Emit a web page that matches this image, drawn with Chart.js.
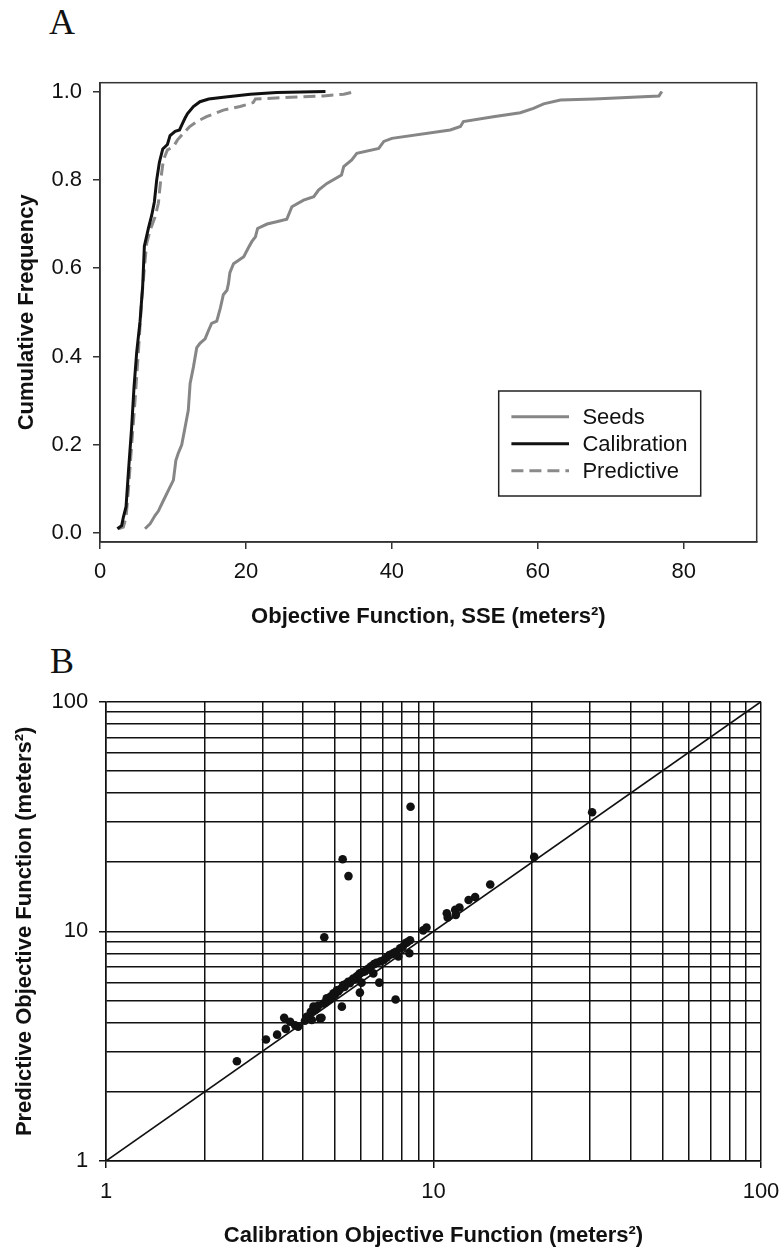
<!DOCTYPE html>
<html>
<head>
<meta charset="utf-8">
<script src="https://cdn.jsdelivr.net/npm/chart.js@4.4.0/dist/chart.umd.min.js"></script>
<style>
  body { margin: 0; background: #fff; width: 780px; height: 1249px; position: relative; overflow: hidden; }
  .panel-letter { position: absolute; font-family: 'Liberation Serif', 'Times New Roman', serif; font-size: 36px; line-height: 36px; color: #111; }
  #wrapA { position: absolute; left: 0; top: 40px; width: 780px; height: 600px; }
  #wrapB { position: absolute; left: 0; top: 640px; width: 780px; height: 609px; }
</style>
</head>
<body>
<div class="panel-letter" style="left:49px; top:3.5px;">A</div>
<div class="panel-letter" style="left:50px; top:643px;">B</div>
<div id="wrapA"><canvas id="cdfChart" width="780" height="600"></canvas></div>
<div id="wrapB"><canvas id="sseChart" width="780" height="609"></canvas></div>

<script>
// Панель A: кумулятивные распределения SSE
const seedsX = [6.17, 6.86, 7.54, 8.0, 8.69, 9.37, 10.06, 10.4, 10.7, 11.2, 11.66, 12.1, 12.35, 12.8, 13.26, 13.7, 14.4, 14.9, 15.3, 16.0, 16.5, 16.9, 17.4, 17.6, 17.8, 18.3, 19.0, 19.7, 20.3, 20.8, 21.3, 21.6, 22.9, 24.2, 25.6, 26.3, 27.9, 29.3, 29.95, 31.1, 33.1, 33.4, 34.5, 35.2, 38.2, 38.9, 40.0, 48.0, 49.4, 49.8, 53.9, 57.6, 59.4, 60.8, 63.1, 67.7, 76.6, 77.0];
const seedsY = [0.01, 0.021, 0.04, 0.05, 0.074, 0.097, 0.12, 0.165, 0.18, 0.2, 0.24, 0.278, 0.339, 0.376, 0.42, 0.43, 0.44, 0.46, 0.475, 0.48, 0.51, 0.54, 0.55, 0.565, 0.59, 0.61, 0.618, 0.626, 0.645, 0.66, 0.671, 0.69, 0.70, 0.705, 0.711, 0.739, 0.754, 0.762, 0.777, 0.792, 0.811, 0.83, 0.845, 0.86, 0.871, 0.887, 0.894, 0.913, 0.921, 0.932, 0.943, 0.952, 0.962, 0.972, 0.981, 0.983, 0.99, 1.0];

const calibX = [2.38, 2.97, 3.2, 3.57, 3.9, 4.34, 4.66, 5.03, 5.49, 5.85, 6.08, 6.63, 7.09, 7.45, 7.77, 8.14, 8.6, 9.24, 9.6, 10.3, 10.9, 11.2, 11.66, 12.0, 12.8, 13.7, 14.9, 16.9, 20.6, 24.2, 30.9];
const calibY = [0.01, 0.017, 0.036, 0.06, 0.14, 0.24, 0.33, 0.41, 0.48, 0.56, 0.65, 0.69, 0.72, 0.75, 0.80, 0.84, 0.87, 0.88, 0.90, 0.91, 0.913, 0.924, 0.94, 0.95, 0.966, 0.977, 0.983, 0.987, 0.994, 0.998, 1.0];

const predX = [2.5, 3.2, 3.57, 3.9, 4.34, 4.8, 5.26, 5.72, 6.08, 6.4, 6.86, 7.54, 8.0, 8.32, 8.69, 9.24, 10.06, 10.6, 11.4, 12.25, 13.26, 14.6, 16.9, 19.2, 21.0, 21.3, 26.1, 30.6, 33.4, 35.0];
const predY = [0.01, 0.014, 0.036, 0.10, 0.2, 0.30, 0.41, 0.53, 0.60, 0.656, 0.686, 0.716, 0.747, 0.80, 0.845, 0.868, 0.875, 0.89, 0.905, 0.92, 0.932, 0.943, 0.958, 0.966, 0.975, 0.983, 0.987, 0.99, 0.994, 1.0];

const seriesNamesA = ['Seeds', 'Calibration', 'Predictive'];
const xTicksA = [0, 20, 40, 60, 80];
const yTicksA = [0, 0.2, 0.4, 0.6, 0.8, 1.0];

// Панель B: калибровочная и прогнозная SSE для каждой модели
const calibSSE = [2.51, 3.08, 3.33, 3.50, 3.54, 3.65, 3.78, 3.86, 4.05, 4.10, 4.22, 4.25, 4.30, 4.35, 4.40, 4.45, 4.50, 4.55, 4.61, 4.64, 4.68, 4.72, 4.78, 4.85, 4.90, 4.95, 5.00, 5.07, 5.12, 5.18, 5.25, 5.28, 5.30, 5.35, 5.40, 5.49, 5.50, 5.55, 5.62, 5.69, 5.75, 5.82, 5.90, 5.96, 5.96, 6.03, 6.10, 6.18, 6.25, 6.35, 6.45, 6.55, 6.58, 6.70, 6.83, 6.90, 7.05, 7.20, 7.33, 7.45, 7.55, 7.66, 7.68, 7.81, 7.91, 8.05, 8.19, 8.30, 8.44, 8.48, 8.51, 9.30, 9.52, 10.98, 11.05, 11.65, 11.7, 12.0, 12.8, 13.4, 14.9, 20.3, 30.5];
const predSSE = [2.72, 3.38, 3.55, 4.20, 3.76, 4.04, 3.90, 3.84, 4.08, 4.25, 4.46, 4.11, 4.70, 4.55, 4.62, 4.75, 4.18, 4.20, 4.85, 9.42, 4.90, 5.11, 5.02, 5.20, 5.15, 5.37, 5.30, 5.54, 5.48, 5.60, 4.70, 20.6, 5.83, 5.72, 5.90, 6.03, 17.4, 5.95, 6.10, 6.23, 6.18, 6.35, 6.45, 6.56, 5.41, 5.98, 6.65, 6.70, 6.80, 6.90, 7.05, 6.56, 7.20, 7.30, 5.98, 7.40, 7.50, 7.70, 7.89, 7.95, 8.05, 5.05, 8.15, 7.77, 8.43, 8.55, 8.85, 8.95, 8.03, 9.15, 34.9, 10.1, 10.4, 11.98, 11.5, 12.4, 11.8, 12.7, 13.7, 14.1, 16.0, 21.1, 33.0];

const oneToOne = [1, 100];
const gridValuesB = [1, 2, 3, 4, 5, 6, 7, 8, 9, 10, 20, 30, 40, 50, 60, 70, 80, 90, 100];
const tickLabelsB = [1, 10, 100];

const SANS = '"Liberation Sans", Arial, Helvetica, sans-serif';
const INK = '#111111';

function toPoints(xs, ys) {
    return xs.map((x, i) => ({ x: x, y: ys[i] }));
}

// Убираем запас под крайние подписи, чтобы область графика не сжималась
function noEdgePadding(s) {
    s.paddingLeft = 0;
    s.paddingRight = 0;
    s.paddingTop = 0;
    s.paddingBottom = 0;
}

// Рамка вокруг области графика (панель A)
const frameBox = {
    id: 'frameBox',
    beforeDatasetsDraw(chart) {
        const { ctx, chartArea } = chart;
        ctx.save();
        ctx.strokeStyle = '#333';
        ctx.lineWidth = 1.5;
        ctx.strokeRect(chartArea.left, chartArea.top, chartArea.right - chartArea.left, chartArea.bottom - chartArea.top);
        ctx.restore();
    }
};

// Легенда в рамке внутри области графика
const boxedLegend = {
    id: 'boxedLegend',
    afterDraw(chart) {
        const { ctx, chartArea } = chart;
        const w = 202, h = 105;
        const x0 = chartArea.right - 56 - w;
        const y0 = chartArea.bottom - 46 - h;
        ctx.save();
        ctx.fillStyle = '#fff';
        ctx.fillRect(x0, y0, w, h);
        ctx.strokeStyle = '#222';
        ctx.lineWidth = 1.5;
        ctx.strokeRect(x0, y0, w, h);
        ctx.font = '22px ' + SANS;
        ctx.textBaseline = 'middle';
        chart.data.datasets.forEach((ds, i) => {
            const y = y0 + 25.7 + i * 27;
            ctx.beginPath();
            ctx.setLineDash(ds.borderDash || []);
            ctx.strokeStyle = ds.borderColor;
            ctx.lineWidth = ds.borderWidth;
            ctx.moveTo(x0 + 12.7, y);
            ctx.lineTo(x0 + 70.3, y);
            ctx.stroke();
            ctx.setLineDash([]);
            ctx.fillStyle = INK;
            ctx.fillText(ds.label, x0 + 83.7, y + 1);
        });
        ctx.restore();
    }
};

new Chart(document.getElementById('cdfChart'), {
    type: 'line',
    data: {
        datasets: [{
            label: seriesNamesA[0],
            data: toPoints(seedsX, seedsY),
            borderColor: '#868686',
            borderWidth: 3,
            pointRadius: 0,
            tension: 0
        }, {
            label: seriesNamesA[1],
            data: toPoints(calibX, calibY),
            borderColor: '#111111',
            borderWidth: 3,
            pointRadius: 0,
            tension: 0
        }, {
            label: seriesNamesA[2],
            data: toPoints(predX, predY),
            borderColor: '#8a8a8a',
            borderWidth: 3,
            borderDash: [12, 6],
            pointRadius: 0,
            tension: 0
        }]
    },
    options: {
        responsive: false,
        animation: false,
        layout: { padding: { top: 42.7, right: 23.3, left: 0, bottom: 0 } },
        plugins: {
            legend: { display: false },
            tooltip: { enabled: false }
        },
        scales: {
            x: {
                type: 'linear',
                min: 0,
                max: 90,
                afterBuildTicks: s => { s.ticks = xTicksA.map(v => ({ value: v })); },
                afterFit: s => { s.height = 98; noEdgePadding(s); },
                grid: { display: true, drawOnChartArea: false, drawTicks: true, tickLength: 7, color: '#333', lineWidth: 1.5 },
                border: { display: true, color: '#333', width: 1.5 },
                ticks: { color: INK, font: { family: SANS, size: 22 }, padding: 10, maxRotation: 0 },
                title: {
                    display: true,
                    text: 'Objective Function, SSE (meters²)',
                    color: INK,
                    font: { family: SANS, size: 22, weight: 'bold' },
                    padding: { top: 0, bottom: 10 }
                }
            },
            y: {
                type: 'linear',
                min: -0.02,
                max: 1.02,
                afterBuildTicks: s => { s.ticks = yTicksA.map(v => ({ value: v })); },
                afterFit: s => { s.width = 100; noEdgePadding(s); },
                grid: { display: true, drawOnChartArea: false, drawTicks: true, tickLength: 7, color: '#333', lineWidth: 1.5 },
                border: { display: true, color: '#333', width: 1.5 },
                ticks: { color: INK, font: { family: SANS, size: 22 }, padding: 11, callback: v => v.toFixed(1) },
                title: {
                    display: true,
                    text: 'Cumulative Frequency',
                    color: INK,
                    font: { family: SANS, size: 22, weight: 'bold' },
                    padding: { top: 14, bottom: 0 }
                }
            }
        }
    },
    plugins: [frameBox, boxedLegend]
});

function logAxis(title, isX) {
    return {
        type: 'logarithmic',
        min: 1,
        max: 100,
        afterBuildTicks: s => { s.ticks = gridValuesB.map(v => ({ value: v, major: tickLabelsB.includes(v) })); },
        afterFit: isX ? (s => { s.height = 88; noEdgePadding(s); }) : (s => { s.width = 106; noEdgePadding(s); }),
        grid: {
            display: true,
            drawOnChartArea: true,
            drawTicks: true,
            tickLength: 7,
            color: INK,
            lineWidth: 1.5,
            tickColor: c => (c.tick && tickLabelsB.includes(c.tick.value)) ? INK : 'rgba(0,0,0,0)'
        },
        border: { display: true, color: INK, width: 1.5 },
        ticks: {
            autoSkip: false,
            maxRotation: 0,
            color: INK,
            font: { family: SANS, size: 22 },
            padding: isX ? 11 : 10.7,
            callback: v => tickLabelsB.includes(v) ? String(v) : ''
        },
        title: {
            display: true,
            text: title,
            color: INK,
            font: { family: SANS, size: 22, weight: 'bold' },
            padding: isX ? { top: 0, bottom: 0 } : { top: 12, bottom: 0 }
        }
    };
}

new Chart(document.getElementById('sseChart'), {
    data: {
        datasets: [{
            type: 'line',
            label: '1:1',
            data: toPoints(oneToOne, oneToOne),
            borderColor: INK,
            borderWidth: 1.6,
            pointRadius: 0,
            tension: 0
        }, {
            type: 'scatter',
            label: 'Models',
            data: toPoints(calibSSE, predSSE),
            backgroundColor: INK,
            borderColor: INK,
            borderWidth: 0,
            pointRadius: 4.3
        }]
    },
    options: {
        responsive: false,
        animation: false,
        layout: { padding: { top: 61.7, right: 19, left: 0, bottom: 0 } },
        plugins: {
            legend: { display: false },
            tooltip: { enabled: false }
        },
        scales: {
            x: logAxis('Calibration Objective Function (meters²)', true),
            y: logAxis('Predictive Objective Function (meters²)', false)
        }
    }
});
</script>
</body>
</html>
